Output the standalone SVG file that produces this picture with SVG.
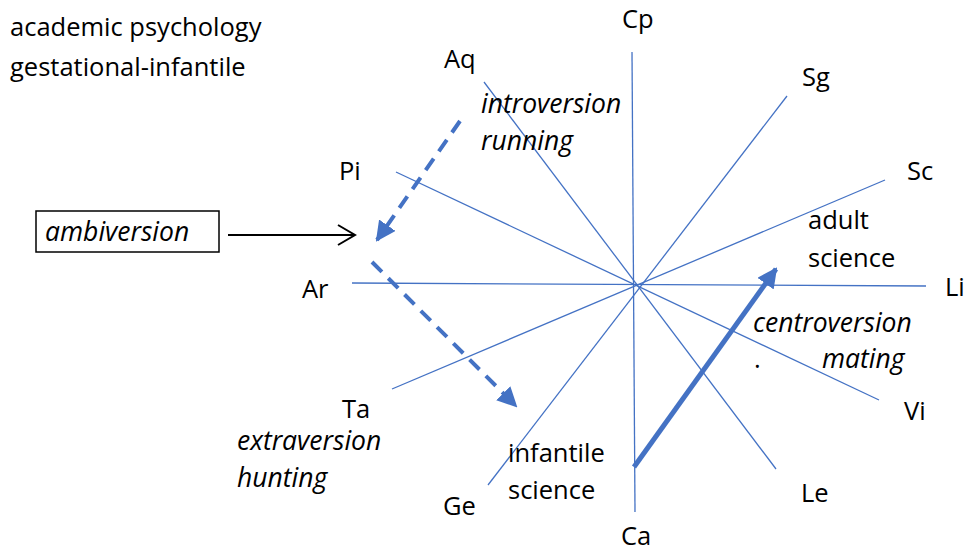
<svg xmlns="http://www.w3.org/2000/svg" width="968" height="553" viewBox="0 0 968 553">
<defs>
<style>
text{font-family:"Open Sans","Liberation Sans",sans-serif;font-size:25.5px;fill:#000}
.it{font-style:italic;font-size:26.5px}
.ax{stroke:#4472C4;stroke-width:1.3;fill:none}
.dash{stroke:#4472C4;stroke-width:4;stroke-dasharray:14 9;fill:none}
</style>
<marker id="tri" viewBox="0 0 10 10" refX="9" refY="5" markerWidth="5" markerHeight="5" markerUnits="strokeWidth" orient="auto"><path d="M0,0L10,5L0,10z" fill="#4472C4"/></marker>
<marker id="tri2" viewBox="0 0 10 10" refX="9" refY="5" markerWidth="4" markerHeight="4" markerUnits="strokeWidth" orient="auto"><path d="M0,0L10,5L0,10z" fill="#4472C4"/></marker>
</defs>
<rect width="968" height="553" fill="#fff"/>
<g id="title">
<text x="10" y="36">academic psychology</text>
<text x="10" y="76">gestational-infantile</text>
</g>
<g id="axes">
<line class="ax" x1="632" y1="52" x2="635" y2="512"/>
<line class="ax" x1="352" y1="283" x2="926" y2="286"/>
<line class="ax" x1="484" y1="82" x2="776" y2="469"/>
<line class="ax" x1="787" y1="96" x2="488" y2="485"/>
<line class="ax" x1="396" y1="172" x2="879" y2="400"/>
<line class="ax" x1="885" y1="180" x2="392" y2="389"/>
</g>
<g id="labels">
<text x="622" y="28">Cp</text>
<text x="444" y="68">Aq</text>
<text x="802" y="86">Sg</text>
<text x="907" y="180">Sc</text>
<text x="339" y="180">Pi</text>
<text x="302" y="298">Ar</text>
<text x="945" y="296">Li</text>
<text x="342" y="418">Ta</text>
<text x="904" y="420">Vi</text>
<text x="443" y="515">Ge</text>
<text x="801" y="502">Le</text>
<text x="621" y="545">Ca</text>
</g>
<g id="introversion">
<text class="it" x="481" y="113">introversion</text>
<text class="it" x="481" y="150">running</text>
</g>
<g id="extraversion">
<text class="it" x="237" y="450">extraversion</text>
<text class="it" x="237" y="487">hunting</text>
</g>
<g id="centroversion">
<text class="it" x="753" y="332">centroversion</text>
<text class="it" x="822" y="368">mating</text>
<text x="754" y="368">.</text>
</g>
<g id="adult-science">
<text x="808" y="229">adult</text>
<text x="808" y="267">science</text>
</g>
<g id="infantile-science">
<text x="508" y="462">infantile</text>
<text x="508" y="499">science</text>
</g>
<g id="ambiversion">
<rect x="36" y="211" width="183" height="41" fill="#fff" stroke="#000" stroke-width="1.5"/>
<text class="it" x="45" y="241">ambiversion</text>
</g>
<g id="connectors">
<line x1="228" y1="235" x2="354" y2="235" stroke="#000" stroke-width="2"/>
<polyline points="338,225 355,235 338,245" fill="none" stroke="#000" stroke-width="2"/>
<line class="dash" x1="460" y1="121" x2="377" y2="240" marker-end="url(#tri)"/>
<line class="dash" x1="372" y1="262" x2="516" y2="406" marker-end="url(#tri)"/>
<line x1="634" y1="467" x2="776" y2="269" stroke="#4472C4" stroke-width="5" marker-end="url(#tri2)"/>
</g>
</svg>
